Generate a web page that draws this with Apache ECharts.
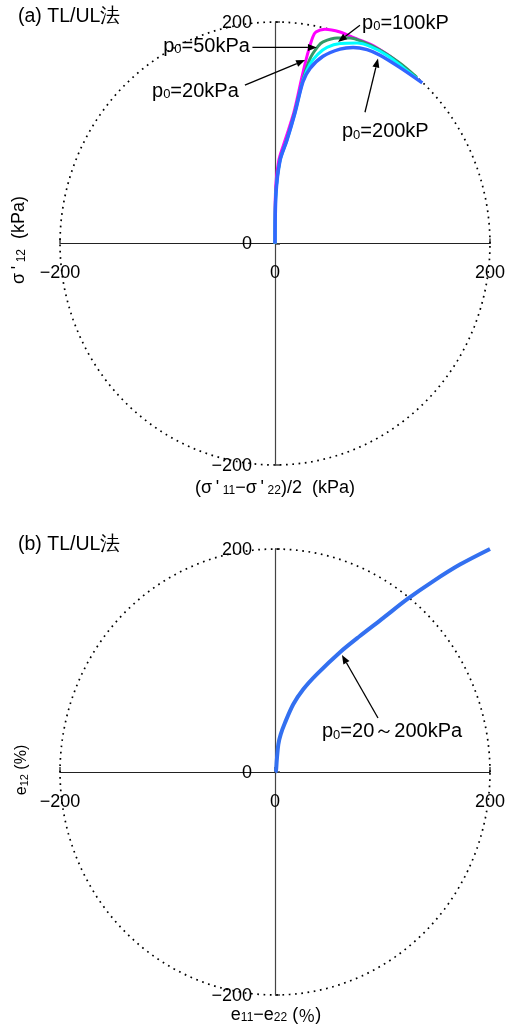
<!DOCTYPE html>
<html><head><meta charset="utf-8">
<script src="https://cdn.jsdelivr.net/npm/echarts@6/dist/echarts.min.js"></script>
<style>html,body{margin:0;padding:0;background:#fff}#c{width:506px;height:1027px}</style>
</head><body><div id="c"></div>
<script>
// ---- data ----
const axisTicks = [-200, 0, 200];
const p20 = [[0,0],[0.4,45],[3.5,75],[10,95],[18,120],[25,150],[30,170],[35,186],[38,191],[46.5,193.5],[60.5,191],[72.6,186],[88.4,180],[104,171],[118,161],[132,149]];
const p50 = [[0,0],[0.7,45],[4.5,75],[11,94],[18.5,119],[26,148],[32.6,167],[40,178],[44.7,182],[57.7,185.5],[69.8,185.5],[81.9,182],[97.7,174.7],[116,163],[132,150]];
const p100 = [[0,0],[0.9,45],[4.7,75],[11,93],[18.6,118],[26,147],[32.6,162],[40,171],[48.4,177],[60.5,180.5],[76.3,181],[88.4,178],[104,170],[119,159],[132,149]];
const p200 = [[0,0],[0.9,45],[4.7,75],[11,93],[18.6,118],[26,146],[32.6,158],[44.7,169],[60.5,175.5],[72.6,177],[85.6,175],[97.7,170],[116,159],[137,145]];
const strainAll = [[0,0],[0.9,1],[1.6,9.9],[3.1,24.8],[5.3,33.8],[9.3,44.2],[17,60.7],[26.3,74.2],[38.8,87.6],[60.5,107.5],[79,122],[100.5,138],[123,155],[147,171],[172,186],[200,200]];

const FONT = 'Liberation Sans';
const CJK = 'Noto Sans CJK JP';
const chart = echarts.init(document.getElementById('c'), null, {renderer:'canvas'});

function mkX(gi){
  return {gridIndex:gi, type:'value', min:-200, max:200, interval:200,
    axisLine:{onZero:true, lineStyle:{color:'#222', width:1.2}},
    axisTick:{show:true, inside:true, length:5, lineStyle:{color:'#444', width:1.5}}, splitLine:{show:false},
    axisLabel:{show:false}};
}
function mkY(gi){
  return {gridIndex:gi, type:'value', min:-200, max:200, interval:200,
    axisLine:{onZero:true, lineStyle:{color:'#444', width:1.2}},
    axisTick:{show:true, inside:true, length:5, lineStyle:{color:'#444', width:1.5}}, splitLine:{show:false},
    axisLabel:{show:false}};
}
function ln(name, data, color, w, gi){
  return {name, type:'line', xAxisIndex:gi, yAxisIndex:gi, data, showSymbol:false, symbol:'none',
    smooth:0.3, lineStyle:{color, width:w}, z:3, silent:true, animation:false};
}

chart.setOption({
  animation:false,
  grid:[{left:60, width:430, top:22, height:443}, {left:60, width:430, top:549, height:446}],
  xAxis:[mkX(0), mkX(1)],
  yAxis:[mkY(0), mkY(1)],
  series:[
    ln('p0=20kPa', p20, '#ff00ff', 3, 0),
    ln('p0=50kPa', p50, '#339966', 3, 0),
    ln('p0=100kPa', p100, '#00ffff', 3, 0),
    ln('p0=200kPa', p200, '#3366ff', 3.5, 0),
    ln('p0=20~200kPa', strainAll, '#3370f0', 4, 1)
  ]
});

// ---- annotations ----
const rich = {
  a:{fontFamily:FONT, fontSize:20, lineHeight:22, verticalAlign:'bottom', color:'#111'},
  s:{fontFamily:FONT, fontSize:13, lineHeight:12, verticalAlign:'bottom', color:'#111'}
};
const richName = {
  a:{fontFamily:FONT, fontSize:18, lineHeight:20, verticalAlign:'bottom', color:'#000'},
  c:{fontFamily:CJK, fontSize:17, lineHeight:20, verticalAlign:'bottom', color:'#000'},
  s:{fontFamily:FONT, fontSize:12, lineHeight:11, verticalAlign:'bottom', color:'#000'}
};
const richSm = {
  a:{fontFamily:FONT, fontSize:16, lineHeight:18, verticalAlign:'bottom', color:'#000'},
  s:{fontFamily:FONT, fontSize:11, lineHeight:10, verticalAlign:'bottom', color:'#000'}
};
const px = (gi, p) => chart.convertToPixel({gridIndex:gi}, p);
const g = [];
function circle(gi){
  const pts = [];
  for (let i=0;i<=360;i+=2){ const t=i*Math.PI/180; pts.push(px(gi,[200*Math.cos(t), 200*Math.sin(t)])); }
  g.push({type:'polyline', shape:{points:pts}, style:{fill:null, stroke:'#000', lineWidth:1.7, lineDash:[1.7,4.6]}, z:1, silent:true});
}
function tickLabels(gi){
  const fmt = v => String(v).replace('-', '\u2212');
  axisTicks.forEach(v => {
    const p = px(gi, [v, 0]);
    g.push({type:'text', x:p[0], y:p[1]+30, style:{text:fmt(v), fontFamily:FONT, fontSize:18, fill:'#000', align:'center', verticalAlign:'middle'}, z:5, silent:true});
    const q = px(gi, [0, v]);
    g.push({type:'text', x:q[0]-23, y:q[1]+1, style:{text:fmt(v), fontFamily:FONT, fontSize:18, fill:'#000', align:'right', verticalAlign:'middle'}, z:5, silent:true});
  });
}
function arrow(gi, from, to){
  const a = px(gi, from), b = px(gi, to);
  const ang = Math.atan2(b[1]-a[1], b[0]-a[0]);
  const L = 9, W = 3.5;
  const base = [b[0]-L*Math.cos(ang), b[1]-L*Math.sin(ang)];
  g.push({type:'line', shape:{x1:a[0], y1:a[1], x2:base[0], y2:base[1]}, style:{stroke:'#000', lineWidth:1.3}, z:10, silent:true});
  g.push({type:'polygon', shape:{points:[b,[base[0]+W*Math.sin(ang), base[1]-W*Math.cos(ang)],[base[0]-W*Math.sin(ang), base[1]+W*Math.cos(ang)]]}, style:{fill:'#000'}, z:10, silent:true});
}
function label(gi, at, txt, r){
  const p = px(gi, at);
  g.push({type:'text', x:p[0], y:p[1], style:{text:txt, rich:r||rich, verticalAlign:'middle', align:'left'}, z:11, silent:true});
}
circle(0); circle(1);
tickLabels(0); tickLabels(1);
label(0, [81,200], '{a|p}{s|0}{a|=100kP}');
arrow(0, [79,197], [58.6,182]);
label(0, [-104,179], '{a|p}{s|0}{a|=50kPa}');
arrow(0, [-21,177], [39,177]);
label(0, [-114.4,138.5], '{a|p}{s|0}{a|=20kPa}');
arrow(0, [-28,143], [28,165.6]);
label(0, [62.3,102], '{a|p}{s|0}{a|=200kP}');
arrow(0, [83.7,118.5], [95.8,167]);
label(1, [43.7,36.8], '{a|p}{s|0}{a|=20\uFF5E200kPa}');
arrow(1, [95.8,48.4], [62.3,105]);

// titles & axis names
g.push({type:'text', left:18, top:7, style:{text:'(a) TL/UL法', fontFamily:FONT, fontSize:19.5, fill:'#000'}});
g.push({type:'text', left:18, top:535, style:{text:'(b) TL/UL法', fontFamily:FONT, fontSize:19.5, fill:'#000'}});
g.push({type:'text', x:275, y:487, style:{text:'{a|(σ\u2009\'\u2009}{s|11}{a|\u2212σ\u2009\'\u2009}{s|22}{a|)/2  (kPa)}', rich:richName, align:'center', verticalAlign:'middle'}});
g.push({type:'text', x:276, y:1014, style:{text:'{a|e}{s|11}{a|\u2212e}{s|22}{a| (}{c|％}{a|)}', rich:richName, align:'center', verticalAlign:'middle'}});
g.push({type:'text', x:18, y:240, rotation:Math.PI/2, style:{text:'{a|σ\u2009\'\u2009}{s|12}{a|  (kPa)}', rich:richName, align:'center', verticalAlign:'middle'}});
g.push({type:'text', x:21, y:770, rotation:Math.PI/2, style:{text:'{a|e}{s|12}{a| (%)}', rich:richSm, align:'center', verticalAlign:'middle'}});

chart.setOption({graphic: g});
</script></body></html>
